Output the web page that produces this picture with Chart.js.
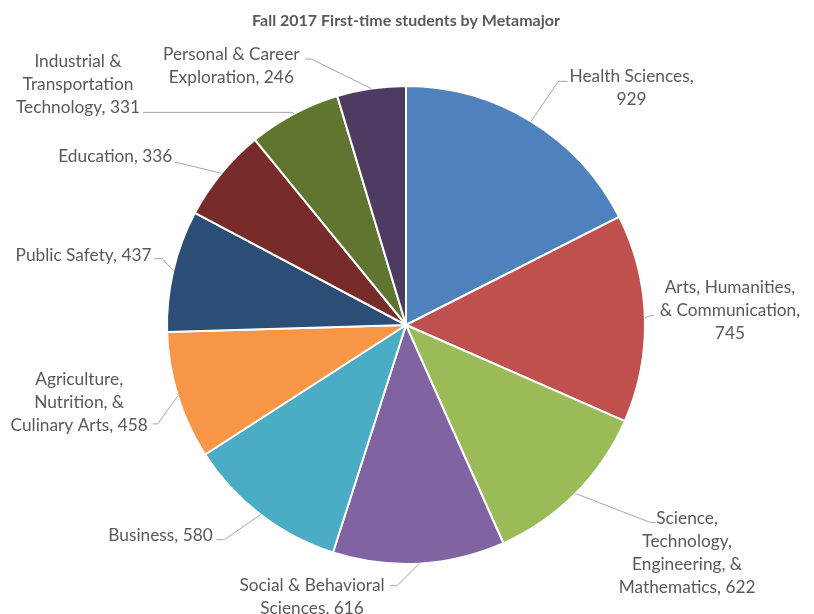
<!DOCTYPE html>
<html>
<head>
<meta charset="utf-8">
<script src="https://cdn.jsdelivr.net/npm/chart.js@4.4.0/dist/chart.umd.min.js"></script>
<style>
  html, body { margin: 0; padding: 0; background: #ffffff; }
  #wrap { width: 814px; height: 614px; }
</style>
</head>
<body>
<div id="wrap"><canvas id="c" width="814" height="614"></canvas></div>
<script>
// ---- Data ----
const chartTitle = "Fall 2017 First-time students by Metamajor";
const categories = [
  "Health Sciences",
  "Arts, Humanities, & Communication",
  "Science, Technology, Engineering, & Mathematics",
  "Social & Behavioral Sciences",
  "Business",
  "Agriculture, Nutrition, & Culinary Arts",
  "Public Safety",
  "Education",
  "Industrial & Transportation Technology",
  "Personal & Career Exploration"
];
const students = [929, 745, 622, 616, 580, 458, 437, 336, 331, 246];
// wrapped label lines (value appended at draw time)
const labelLines = [
  ["Health Sciences,", "{v}"],
  ["Arts, Humanities,", "& Communication,", "{v}"],
  ["Science,", "Technology,", "Engineering, &", "Mathematics, {v}"],
  ["Social & Behavioral", "Sciences, {v}"],
  ["Business, {v}"],
  ["Agriculture,", "Nutrition, &", "Culinary Arts, {v}"],
  ["Public Safety, {v}"],
  ["Education, {v}"],
  ["Industrial &", "Transportation", "Technology, {v}"],
  ["Personal & Career", "Exploration, {v}"]
];

// ---- Styles / layout (not data) ----
const colors = ["#4F81BD", "#C0504D", "#9BBB59", "#8064A2", "#4BACC6",
                "#F79646", "#2C4D75", "#772C2A", "#5F7530", "#4D3B62"];
// leader/label offsets relative to slice outer-edge midpoint:
// e: elbow, h: end of horizontal, t: text center x / first line middle y
const labelLayout = [
  {e:[27.5,-40], h:[36.5,-40], t:[100.5,-46.5]},
  {e:[3,-2],     h:[9,-3],     t:[85,-32]},
  {e:[75,29],    h:[80,29],    t:[111.6,23.3]},
  {e:[-22,22],   h:[-29,22],   t:[-107,20]},
  {e:[-36,25],   h:[-44,25],   t:[-100,19]},
  {e:[-20,28],   h:[-25,28],   t:[-98.6,-18.4]},
  {e:[-11,-12],  h:[-19,-12],  t:[-89.7,-17]},
  {e:[-43,-10.5],h:[-47,-10.5],t:[-106,-18]},
  {e:[-2,-1.5],  h:[-151,-1.5],t:[-216,-54]},
  {e:[-60,-29.5],h:[-66,-29.5],t:[-140,-35.5]}
];
const FONT = "Lato, 'Open Sans', sans-serif";
const TEXT_COLOR = "#595959";
const LINE_H = 23;
const TEXT_SHIFT = 1.5;

const labelPlugin = {
  id: 'pieLabels',
  afterDraw(chart) {
    const ctx = chart.ctx;
    ctx.save();
    // title
    ctx.fillStyle = TEXT_COLOR;
    ctx.font = "bold 16px " + FONT;
    ctx.textAlign = "center";
    ctx.textBaseline = "middle";
    ctx.fillText(chartTitle, 406, 21);

    const meta = chart.getDatasetMeta(0);
    ctx.font = "17.3px " + FONT;
    meta.data.forEach((arc, i) => {
      const p = arc.getProps(['x','y','startAngle','endAngle','outerRadius'], true);
      const mid = (p.startAngle + p.endAngle) / 2;
      const ex = p.x + Math.cos(mid) * p.outerRadius;
      const ey = p.y + Math.sin(mid) * p.outerRadius;
      const L = labelLayout[i];
      ctx.strokeStyle = "#A6A6A6";
      ctx.lineWidth = 1;
      ctx.beginPath();
      ctx.moveTo(ex, ey);
      ctx.lineTo(ex + L.e[0], ey + L.e[1]);
      ctx.lineTo(ex + L.h[0], ey + L.h[1]);
      ctx.stroke();
      const lines = labelLines[i].map(s => s.replace("{v}", String(students[i])));
      ctx.fillStyle = TEXT_COLOR;
      ctx.textAlign = "center";
      ctx.textBaseline = "middle";
      lines.forEach((s, k) => {
        ctx.fillText(s, ex + L.t[0], ey + L.t[1] + k * LINE_H + TEXT_SHIFT);
      });
    });
    ctx.restore();
  }
};

new Chart(document.getElementById('c'), {
  type: 'pie',
  data: {
    labels: categories,
    datasets: [{
      data: students,
      backgroundColor: colors,
      borderColor: "#ffffff",
      borderWidth: 2
    }]
  },
  options: {
    responsive: false,
    devicePixelRatio: 1,
    animation: false,
    layout: { padding: { left: 166, right: 168, top: 85, bottom: 49 } },
    plugins: {
      legend: { display: false },
      title: { display: false },
      tooltip: { enabled: false }
    }
  },
  plugins: [labelPlugin]
});
</script>
</body>
</html>
